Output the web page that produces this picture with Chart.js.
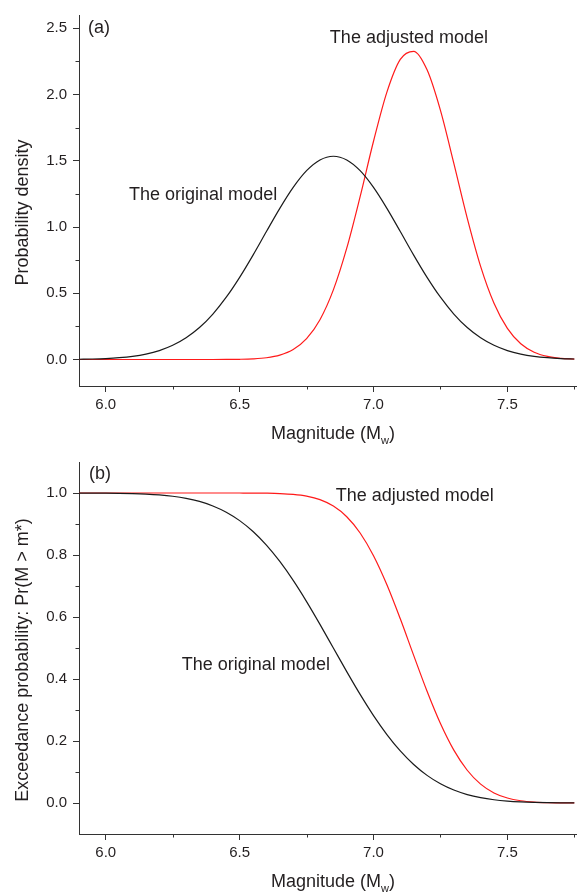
<!DOCTYPE html>
<html>
<head>
<meta charset="utf-8">
<script src="https://cdn.jsdelivr.net/npm/chart.js@4.4.1/dist/chart.umd.min.js"></script>
<style>
  html, body { margin: 0; padding: 0; background: #fff; }
  canvas { display: block; }
</style>
</head>
<body>
<canvas id="pdf" width="577" height="446"></canvas>
<canvas id="exc" width="577" height="446"></canvas>
<script>
// magnitude grid (Mw)
const magnitudes = [5.90, 5.95, 6.00, 6.05, 6.10, 6.15, 6.20, 6.25, 6.30, 6.35,
  6.40, 6.45, 6.50, 6.55, 6.60, 6.65, 6.70, 6.75, 6.80, 6.85,
  6.90, 6.95, 7.00, 7.05, 7.10, 7.15, 7.20, 7.25, 7.30, 7.35,
  7.40, 7.45, 7.50, 7.55, 7.60, 7.65, 7.70, 7.75];

// (a) probability density
const densityOriginal = [0.0019, 0.0038, 0.0073, 0.0135, 0.0239, 0.041, 0.0674, 0.107, 0.164, 0.241,
  0.343, 0.470, 0.620, 0.788, 0.966, 1.141, 1.299, 1.425, 1.506, 1.534,
  1.506, 1.425, 1.299, 1.141, 0.966, 0.788, 0.620, 0.470, 0.343, 0.241,
  0.164, 0.107, 0.0674, 0.041, 0.0239, 0.0135, 0.0073, 0.0038];
const densityAdjusted = [0, 0, 0, 0, 0, 0, 0, 0, 0, 0,
  0.0001, 0.0005, 0.0016, 0.0049, 0.0133, 0.0331, 0.0755, 0.1575, 0.3006, 0.5252,
  0.840, 1.229, 1.647, 2.018, 2.265, 2.326, 2.186, 1.880, 1.480, 1.067,
  0.703, 0.4246, 0.2347, 0.1186, 0.0549, 0.0232, 0.0090, 0.0032];

// (b) exceedance probability Pr(M > m*)
const exceedOriginal = [0.99987, 0.99973, 0.99946, 0.99895, 0.99804, 0.99645, 0.99379, 0.98950, 0.98279, 0.97276,
  0.95827, 0.93797, 0.91085, 0.87574, 0.83185, 0.77910, 0.71800, 0.64974, 0.57625, 0.5,
  0.42375, 0.35026, 0.28200, 0.22090, 0.16815, 0.12426, 0.08915, 0.06203, 0.04173, 0.02724,
  0.01721, 0.01050, 0.00621, 0.00355, 0.00196, 0.00105, 0.00054, 0.00027];
const exceedAdjusted = [1, 1, 1, 1, 1, 1, 1, 1, 1, 1,
  1, 0.99998, 0.99993, 0.99978, 0.99935, 0.99823, 0.99559, 0.98986, 0.97851, 0.95783,
  0.92348, 0.87097, 0.79767, 0.70392, 0.59410, 0.47627, 0.36051, 0.25630, 0.17045, 0.10565,
  0.06088, 0.03252, 0.01606, 0.00734, 0.00309, 0.00120, 0.00043, 0.00014];

// ticks
const xTicks = [6.0, 6.5, 7.0, 7.5];
const xMinor = [6.25, 6.75, 7.25, 7.75];
const yTicksA = [0.0, 0.5, 1.0, 1.5, 2.0, 2.5];
const yMinorA = [0.25, 0.75, 1.25, 1.75, 2.25];
const yTicksB = [0.0, 0.2, 0.4, 0.6, 0.8, 1.0];
const yMinorB = [0.1, 0.3, 0.5, 0.7, 0.9];

const FONT = '"Liberation Sans", Arial, sans-serif';
const INK = '#231f20';
const AXIS = '#333333';

// minor ticks, panel labels and axis titles
const decor = {
  id: 'decor',
  afterDraw(chart, args, o) {
    const ctx = chart.ctx, xs = chart.scales.x, ys = chart.scales.y;
    const area = chart.chartArea;
    ctx.save();
    ctx.strokeStyle = AXIS;
    ctx.lineWidth = 1;
    o.minorX.forEach(v => {
      const px = Math.round(xs.getPixelForValue(v)) + 0.5;
      ctx.beginPath(); ctx.moveTo(px, area.bottom); ctx.lineTo(px, area.bottom + 3.5); ctx.stroke();
    });
    o.minorY.forEach(v => {
      const py = Math.round(ys.getPixelForValue(v)) + 0.5;
      ctx.beginPath(); ctx.moveTo(area.left, py); ctx.lineTo(area.left - 3.5, py); ctx.stroke();
    });

    ctx.fillStyle = INK;
    ctx.font = '18px ' + FONT;
    ctx.textBaseline = 'alphabetic';
    ctx.textAlign = 'left';
    o.labels.forEach(l => {
      ctx.fillText(l.text, xs.getPixelForValue(l.x), ys.getPixelForValue(l.y));
    });

    // x title with subscript
    const main = 'Magnitude (M', sub = 'w', close = ')';
    ctx.font = '18px ' + FONT;
    const w1 = ctx.measureText(main).width, w3 = ctx.measureText(close).width;
    ctx.font = '11px ' + FONT;
    const w2 = ctx.measureText(sub).width;
    const cx = (area.left + area.right) / 2 + 5;
    let tx = cx - (w1 + w2 + w3) / 2;
    const ty = area.bottom + 53;
    ctx.font = '18px ' + FONT;
    ctx.fillText(main, tx, ty);
    ctx.font = '11px ' + FONT;
    ctx.fillText(sub, tx + w1, ty + 5);
    ctx.font = '18px ' + FONT;
    ctx.fillText(close, tx + w1 + w2, ty);

    // y title
    ctx.translate(28, (area.top + area.bottom) / 2 + 12);
    ctx.rotate(-Math.PI / 2);
    ctx.textAlign = 'center';
    ctx.fillText(o.yTitle, 0, 0);
    ctx.restore();
  }
};

function makePanel(id, cfg) {
  const line = (vals, color) => ({
    data: magnitudes.map((m, i) => ({ x: m, y: vals[i] })),
    borderColor: color,
    borderWidth: 1.2,
    pointRadius: 0,
    cubicInterpolationMode: 'monotone',
    fill: false
  });
  return new Chart(document.getElementById(id), {
    type: 'line',
    data: { datasets: [line(cfg.original, '#1a1a1a'), line(cfg.adjusted, '#ff1a1a')] },
    plugins: [decor],
    options: {
      responsive: false,
      animation: false,
      layout: { padding: { top: cfg.padTop, left: 0, right: 0, bottom: 0 } },
      plugins: {
        legend: { display: false },
        tooltip: { enabled: false },
        decor: { minorX: xMinor, minorY: cfg.minorY, labels: cfg.labels, yTitle: cfg.yTitle }
      },
      scales: {
        x: {
          type: 'linear',
          min: 5.9, max: 7.76,
          afterBuildTicks: s => { s.ticks = xTicks.map(v => ({ value: v })); },
          afterFit: s => { s.height = cfg.xHeight; },
          border: { display: true, color: AXIS, width: 1 },
          grid: { drawOnChartArea: false, drawTicks: true, tickLength: 6, color: AXIS },
          ticks: { color: INK, font: { family: FONT, size: 15 }, padding: 4, maxRotation: 0,
                   callback: v => v.toFixed(1) }
        },
        y: {
          type: 'linear',
          min: cfg.yMin, max: cfg.yMax,
          afterBuildTicks: s => { s.ticks = cfg.yTicks.map(v => ({ value: v })); },
          afterFit: s => { s.width = 79; },
          border: { display: true, color: AXIS, width: 1 },
          grid: { drawOnChartArea: false, drawTicks: true, tickLength: 6, color: AXIS },
          ticks: { color: INK, font: { family: FONT, size: 15 }, padding: 6,
                   callback: v => v.toFixed(1) }
        }
      }
    }
  });
}

makePanel('pdf', {
  original: densityOriginal, adjusted: densityAdjusted,
  yMin: -0.2, yMax: 2.6, yTicks: yTicksA, minorY: yMinorA,
  padTop: 12, xHeight: 60,
  yTitle: 'Probability density',
  labels: [
    { text: '(a)', x: 5.934, y: 2.465 },
    { text: 'The adjusted model', x: 6.837, y: 2.39 },
    { text: 'The original model', x: 6.087, y: 1.207 }
  ]
});

makePanel('exc', {
  original: exceedOriginal, adjusted: exceedAdjusted,
  yMin: -0.1, yMax: 1.1, yTicks: yTicksB, minorY: yMinorB,
  padTop: 16, xHeight: 58,
  yTitle: 'Exceedance probability: Pr(M > m*)',
  labels: [
    { text: '(b)', x: 5.937, y: 1.044 },
    { text: 'The adjusted model', x: 6.859, y: 0.973 },
    { text: 'The original model', x: 6.284, y: 0.429 }
  ]
});
</script>
</body>
</html>
